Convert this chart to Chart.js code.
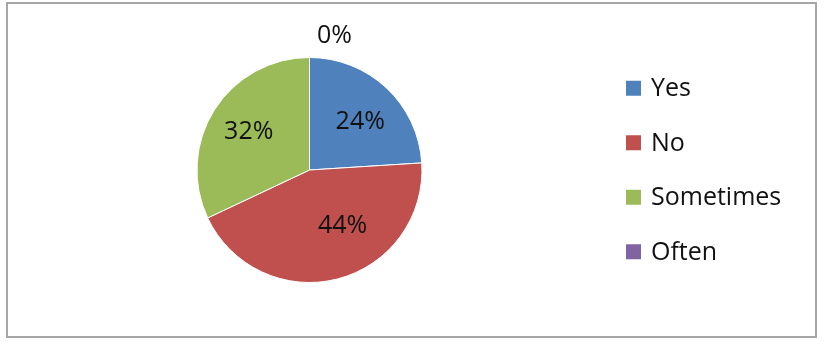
<!DOCTYPE html>
<html>
<head>
<meta charset="utf-8">
<script src="https://cdn.jsdelivr.net/npm/chart.js@4/dist/chart.umd.min.js"></script>
<style>
  html, body { margin: 0; padding: 0; background: #fff; }
  #wrap { position: relative; width: 828px; height: 346px; }
</style>
</head>
<body>
<div id="wrap"><canvas id="pieChart" width="828" height="346"></canvas></div>
<script>
// Survey answers (percent)
const categories = ['Yes', 'No', 'Sometimes', 'Often'];
const shares = [24, 44, 32, 0];
const sliceColors = ['#4F81BD', '#C0504D', '#9BBB59', '#8064A2'];

const FONT = '"Open Sans", "DejaVu Sans", sans-serif';

// Outer frame around the whole chart
const framePlugin = {
    id: 'frame',
    beforeDraw(chart) {
        const ctx = chart.ctx;
        ctx.save();
        ctx.strokeStyle = '#a6a6a6';
        ctx.lineWidth = 2;
        ctx.strokeRect(7, 3, chart.width - 19, chart.height - 12);
        ctx.restore();
    }
};

// Percent labels on the slices (Excel style, zero value sits outside)
const sliceLabels = {
    id: 'sliceLabels',
    afterDatasetsDraw(chart, args, opts) {
        const ctx = chart.ctx;
        const arcs = chart.getDatasetMeta(0).data;
        ctx.save();
        ctx.font = opts.size + 'px ' + FONT;
        ctx.fillStyle = '#111';
        ctx.textAlign = 'center';
        ctx.textBaseline = 'middle';
        arcs.forEach((arc, i) => {
            const v = shares[i];
            const nudge = opts.nudge[i] || {};
            let mid = (arc.startAngle + arc.endAngle) / 2 + (nudge.angle || 0) * Math.PI / 180;
            let r = v === 0 ? arc.outerRadius + opts.outside : arc.outerRadius * (nudge.r || opts.inside);
            const x = arc.x + Math.cos(mid) * r + (nudge.dx || 0);
            const y = arc.y + Math.sin(mid) * r + (nudge.dy || 0);
            ctx.fillText(v + '%', x, y);
        });
        ctx.restore();
    }
};

// Legend on the right, one row per category
const sideLegend = {
    id: 'sideLegend',
    afterDraw(chart, args, opts) {
        const ctx = chart.ctx;
        const n = categories.length;
        const cy = (chart.chartArea.top + chart.chartArea.bottom) / 2;
        const y0 = cy - (n - 1) * opts.rowGap / 2;
        ctx.save();
        ctx.font = opts.size + 'px ' + FONT;
        ctx.textBaseline = 'middle';
        ctx.textAlign = 'left';
        categories.forEach((name, i) => {
            const y = y0 + i * opts.rowGap;
            ctx.fillStyle = sliceColors[i];
            ctx.fillRect(opts.x, y - opts.box / 2, opts.box, opts.box);
            ctx.fillStyle = '#111';
            ctx.fillText(name, opts.x + opts.box + 10, y + 1);
        });
        ctx.restore();
    }
};

new Chart(document.getElementById('pieChart'), {
    type: 'pie',
    data: {
        labels: categories,
        datasets: [{
            data: shares,
            backgroundColor: sliceColors,
            borderColor: '#ffffff',
            borderWidth: 1
        }]
    },
    options: {
        responsive: false,
        animation: false,
        layout: { padding: { left: 196, right: 405, top: 57, bottom: 63 } },
        plugins: {
            legend: { display: false },
            tooltip: { enabled: false },
            sliceLabels: {
                size: 25,
                inside: 0.62,
                outside: 22,
                nudge: [
                    { dx: 3, dy: 3 },
                    { angle: -16, r: 0.58 },
                    { r: 0.64 },
                    { dx: 25 }
                ]
            },
            sideLegend: { x: 626, box: 15, rowGap: 54.5, size: 25 }
        }
    },
    plugins: [framePlugin, sliceLabels, sideLegend]
});
</script>
</body>
</html>
